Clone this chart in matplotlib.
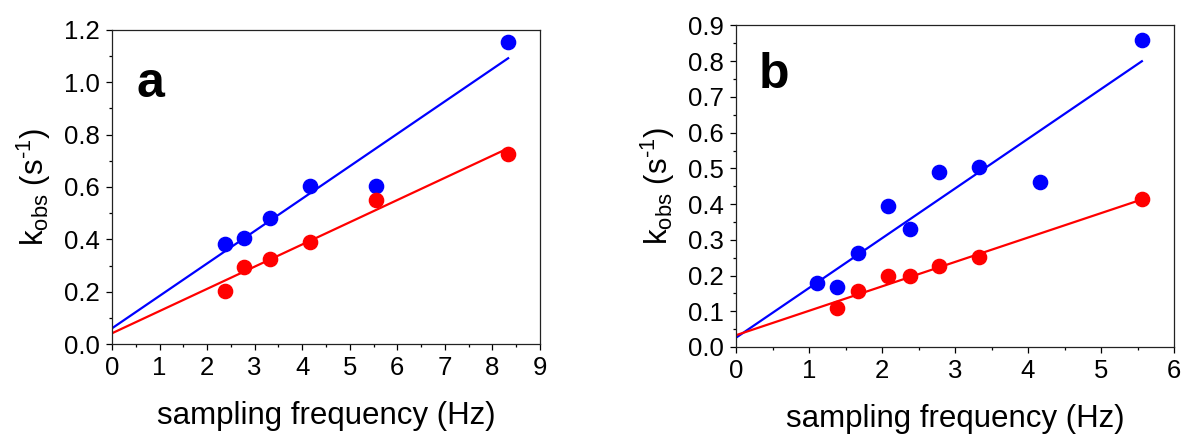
import matplotlib
matplotlib.use("Agg")
import matplotlib.pyplot as plt
from matplotlib.ticker import MultipleLocator, FormatStrFormatter

plt.rcParams['font.family'] = ['Liberation Sans', 'DejaVu Sans']
plt.rcParams['mathtext.fontset'] = 'custom'
plt.rcParams['mathtext.rm'] = 'Liberation Sans'
plt.rcParams['mathtext.it'] = 'Liberation Sans'

# Panel a data
a_x = [2.38, 2.78, 3.33, 4.17, 5.56, 8.33]
a_blue = [0.382, 0.404, 0.480, 0.605, 0.605, 1.153]
a_red = [0.204, 0.293, 0.324, 0.389, 0.549, 0.725]
a_fit_x = [0.0, 8.33]
a_fit_blue = [0.060, 1.092]
a_fit_red = [0.041, 0.748]

# Panel b data
b_x_blue = [1.11, 1.39, 1.67, 2.08, 2.38, 2.78, 3.33, 4.17, 5.56]
b_blue = [0.179, 0.168, 0.264, 0.394, 0.329, 0.491, 0.504, 0.461, 0.859]
b_x_red = [1.39, 1.67, 2.08, 2.38, 2.78, 3.33, 5.56]
b_red = [0.110, 0.156, 0.200, 0.198, 0.226, 0.252, 0.415]
b_fit_x = [0.0, 5.56]
b_fit_blue = [0.026, 0.800]
b_fit_red = [0.033, 0.413]

W, H = 1182, 436
fig = plt.figure(figsize=(W / 100, H / 100), dpi=100)

def box(l, r, t, b):
    return [l / W, 1 - b / H, (r - l) / W, (b - t) / H]

ax1 = fig.add_axes(box(112, 540, 30, 344))
ax2 = fig.add_axes(box(736, 1174, 25.5, 347))

BLUE = '#0000FF'
RED = '#FF0000'

def style(ax, xmax, ymax, ymaj, ymin, yfmt):
    ax.set_xlim(0, xmax)
    ax.set_ylim(0, ymax)
    ax.xaxis.set_major_locator(MultipleLocator(1))
    ax.xaxis.set_minor_locator(MultipleLocator(0.5))
    ax.yaxis.set_major_locator(MultipleLocator(ymaj))
    ax.yaxis.set_minor_locator(MultipleLocator(ymin))
    ax.yaxis.set_major_formatter(FormatStrFormatter(yfmt))
    ax.tick_params(which='major', direction='out', length=4.5, width=0.9,
                   labelsize=18.5, pad=4, top=False, right=False)
    ax.tick_params(which='minor', direction='out', length=2.5, width=0.9,
                   top=False, right=False)
    for s in ax.spines.values():
        s.set_linewidth(0.9)
        s.set_color('#222222')
    ax.set_xlabel('sampling frequency (Hz)', fontsize=22.5, labelpad=15)
    ax.set_ylabel(r'k$_{\mathregular{obs}}$ (s$^{\text{-1}}$)', fontsize=22.5, labelpad=8)

ax1.plot(a_fit_x, a_fit_blue, color=BLUE, lw=1.6, zorder=2)
ax1.plot(a_fit_x, a_fit_red, color=RED, lw=1.6, zorder=2)
ax1.scatter(a_x, a_blue, s=105, color=BLUE, zorder=3, clip_on=False)
ax1.scatter(a_x, a_red, s=105, color=RED, zorder=3, clip_on=False)
style(ax1, 9, 1.2, 0.2, 0.1, '%.1f')
ax1.text(0.058, 0.787, 'a', transform=ax1.transAxes, fontsize=36,
         fontweight='bold', ha='left', va='baseline')

ax2.plot(b_fit_x, b_fit_blue, color=BLUE, lw=1.6, zorder=2)
ax2.plot(b_fit_x, b_fit_red, color=RED, lw=1.6, zorder=2)
ax2.scatter(b_x_blue, b_blue, s=105, color=BLUE, zorder=3, clip_on=False)
ax2.scatter(b_x_red, b_red, s=105, color=RED, zorder=3, clip_on=False)
style(ax2, 6, 0.9, 0.1, 0.05, '%.1f')
ax2.text(0.052, 0.806, 'b', transform=ax2.transAxes, fontsize=36,
         fontweight='bold', ha='left', va='baseline')

fig.savefig('out.png', dpi=100)
